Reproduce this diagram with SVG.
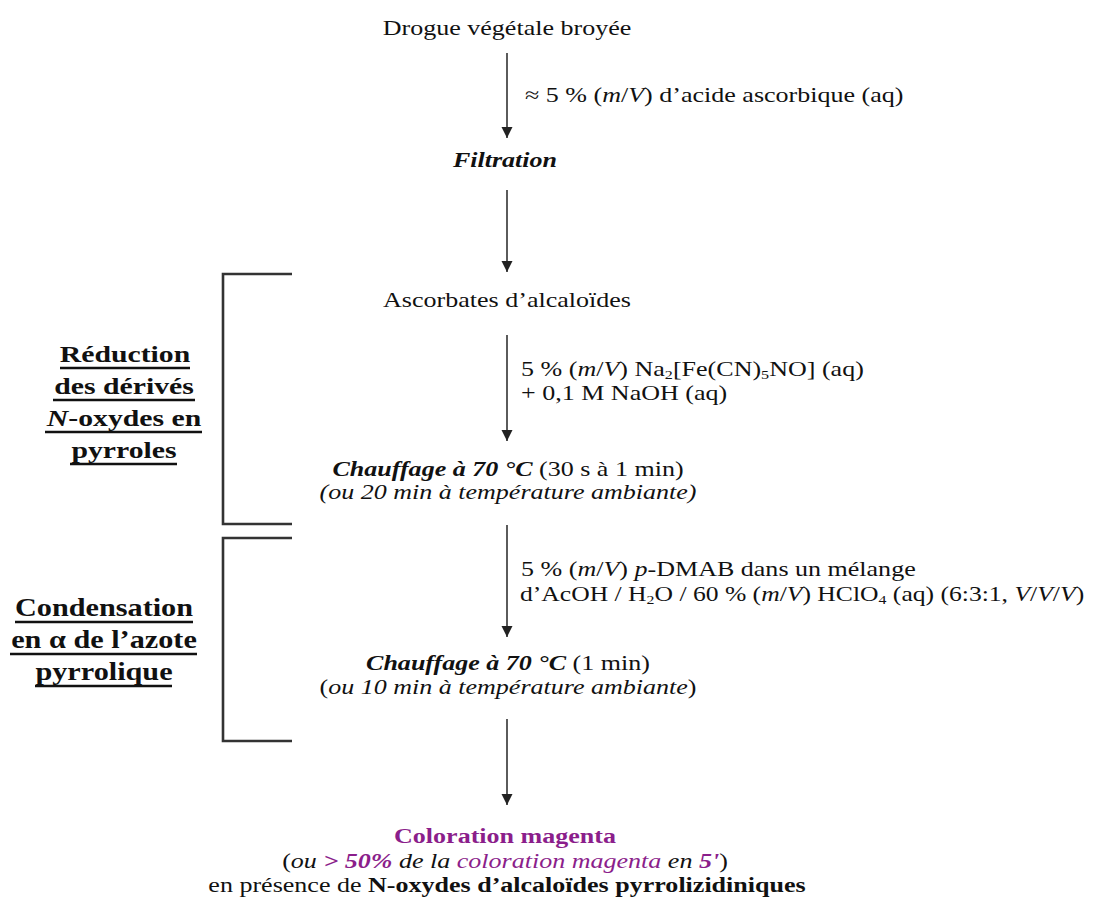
<svg xmlns="http://www.w3.org/2000/svg" width="1094" height="912" viewBox="0 0 1094 912">
<style>
.t{font-family:"Liberation Serif","Times New Roman",serif;font-size:21px;fill:#111}
.l{font-family:"Liberation Serif","Times New Roman",serif;font-size:24px;font-weight:bold;fill:#111}
.l2{font-family:"Liberation Serif","Times New Roman",serif;font-size:25px;font-weight:bold;fill:#111}
.b{font-weight:bold}
.i{font-style:italic}
.bi{font-weight:bold;font-style:italic}
.p{fill:#8B1E8B}
.sub{font-size:13px}
.conn line{stroke:#333;stroke-width:1.6}
.br{fill:none;stroke:#333;stroke-width:2.6}
.ul{stroke:#111;stroke-width:2.4}
</style>
<defs>
<marker id="ah" viewBox="0 0 10 10" refX="10" refY="5" markerWidth="11" markerHeight="12" markerUnits="userSpaceOnUse" orient="auto">
<path d="M0,0 L10,5 L0,10 z" fill="#222"/>
</marker>
</defs>
<rect width="1094" height="912" fill="#fff"/>

<g id="connectors" class="conn">
<line x1="507" y1="53" x2="507" y2="138" marker-end="url(#ah)"/>
<line x1="507" y1="190" x2="507" y2="272" marker-end="url(#ah)"/>
<line x1="507" y1="335" x2="507" y2="441" marker-end="url(#ah)"/>
<line x1="507" y1="525" x2="507" y2="637" marker-end="url(#ah)"/>
<line x1="507" y1="719" x2="507" y2="805" marker-end="url(#ah)"/>
</g>

<g id="brackets">
<path class="br" d="M292,274 H223 V524 H292"/>
<path class="br" d="M292,538 H223 V741 H292"/>
</g>

<g id="n-drogue">
<text class="t" transform="translate(507 35) scale(1.24 1)" text-anchor="middle">Drogue végétale broyée</text>
</g>
<g id="l-acide">
<text class="t" transform="translate(525 102) scale(1.24 1)">≈ 5 % (<tspan class="i">m</tspan>/<tspan class="i">V</tspan>) d’acide ascorbique (aq)</text>
</g>
<g id="n-filtration">
<text class="t bi" transform="translate(505 167) scale(1.24 1)" text-anchor="middle">Filtration</text>
</g>
<g id="n-ascorbates">
<text class="t" transform="translate(507 307) scale(1.24 1)" text-anchor="middle">Ascorbates d’alcaloïdes</text>
</g>
<g id="l-nitroprussiate">
<text class="t" transform="translate(521 376) scale(1.24 1)">5 % (<tspan class="i">m</tspan>/<tspan class="i">V</tspan>) Na<tspan class="sub" dy="3">2</tspan><tspan dy="-3">[Fe(CN)</tspan><tspan class="sub" dy="3">5</tspan><tspan dy="-3">NO] (aq)</tspan></text>
<text class="t" transform="translate(521 400) scale(1.24 1)">+ 0,1 M NaOH (aq)</text>
</g>
<g id="n-chauffage1">
<text class="t" transform="translate(508 476) scale(1.24 1)" text-anchor="middle"><tspan class="bi">Chauffage à 70 °C</tspan> (30 s à 1 min)</text>
<text class="t i" transform="translate(508 499) scale(1.24 1)" text-anchor="middle">(ou 20 min à température ambiante)</text>
</g>
<g id="l-dmab">
<text class="t" transform="translate(521 576) scale(1.24 1)">5 % (<tspan class="i">m</tspan>/<tspan class="i">V</tspan>) <tspan class="i">p</tspan>-DMAB dans un mélange</text>
<text class="t" transform="translate(520 601) scale(1.22 1)">d’AcOH / H<tspan class="sub" dy="3">2</tspan><tspan dy="-3">O / 60 % (</tspan><tspan class="i">m</tspan>/<tspan class="i">V</tspan>) HClO<tspan class="sub" dy="3">4</tspan><tspan dy="-3"> (aq) (6:3:1, </tspan><tspan class="i">V</tspan>/<tspan class="i">V</tspan>/<tspan class="i">V</tspan>)</text>
</g>
<g id="n-chauffage2">
<text class="t" transform="translate(508 670) scale(1.24 1)" text-anchor="middle"><tspan class="bi">Chauffage à 70 °C</tspan> (1 min)</text>
<text class="t" transform="translate(508 694) scale(1.24 1)" text-anchor="middle">(<tspan class="i">ou 10 min à température ambiante</tspan>)</text>
</g>
<g id="n-resultat">
<text class="t b p" transform="translate(505 843) scale(1.24 1)" text-anchor="middle">Coloration magenta</text>
<text class="t" transform="translate(505 868) scale(1.24 1)" text-anchor="middle">(<tspan class="i">ou </tspan><tspan class="bi p">&gt; 50%</tspan><tspan class="i"> de la </tspan><tspan class="i p">coloration magenta</tspan><tspan class="i"> en </tspan><tspan class="bi p">5'</tspan>)</text>
<text class="t" transform="translate(507 892) scale(1.24 1)" text-anchor="middle">en présence de <tspan class="b">N-oxydes d’alcaloïdes pyrrolizidiniques</tspan></text>
</g>

<g id="label-reduction">
<text class="l" transform="translate(125 362) scale(1.24 1)" text-anchor="middle">Réduction</text>
<text class="l" transform="translate(124 394) scale(1.24 1)" text-anchor="middle">des dérivés</text>
<text class="l" transform="translate(124 426) scale(1.24 1)" text-anchor="middle"><tspan class="i">N</tspan>-oxydes en</text>
<text class="l" transform="translate(124 458) scale(1.24 1)" text-anchor="middle">pyrroles</text>
<line class="ul" x1="60" y1="368" x2="190" y2="368"/>
<line class="ul" x1="53" y1="400" x2="195" y2="400"/>
<line class="ul" x1="45" y1="432" x2="202" y2="432"/>
<line class="ul" x1="70" y1="464" x2="177" y2="464"/>
</g>

<g id="label-condensation">
<text class="l2" transform="translate(104 616) scale(1.21 1)" text-anchor="middle">Condensation</text>
<text class="l2" transform="translate(104 648) scale(1.21 1)" text-anchor="middle">en α de l’azote</text>
<text class="l2" transform="translate(104 680) scale(1.21 1)" text-anchor="middle">pyrrolique</text>
<line class="ul" x1="15" y1="622" x2="193" y2="622"/>
<line class="ul" x1="10" y1="654" x2="197" y2="654"/>
<line class="ul" x1="35" y1="686" x2="172" y2="686"/>
</g>
</svg>
